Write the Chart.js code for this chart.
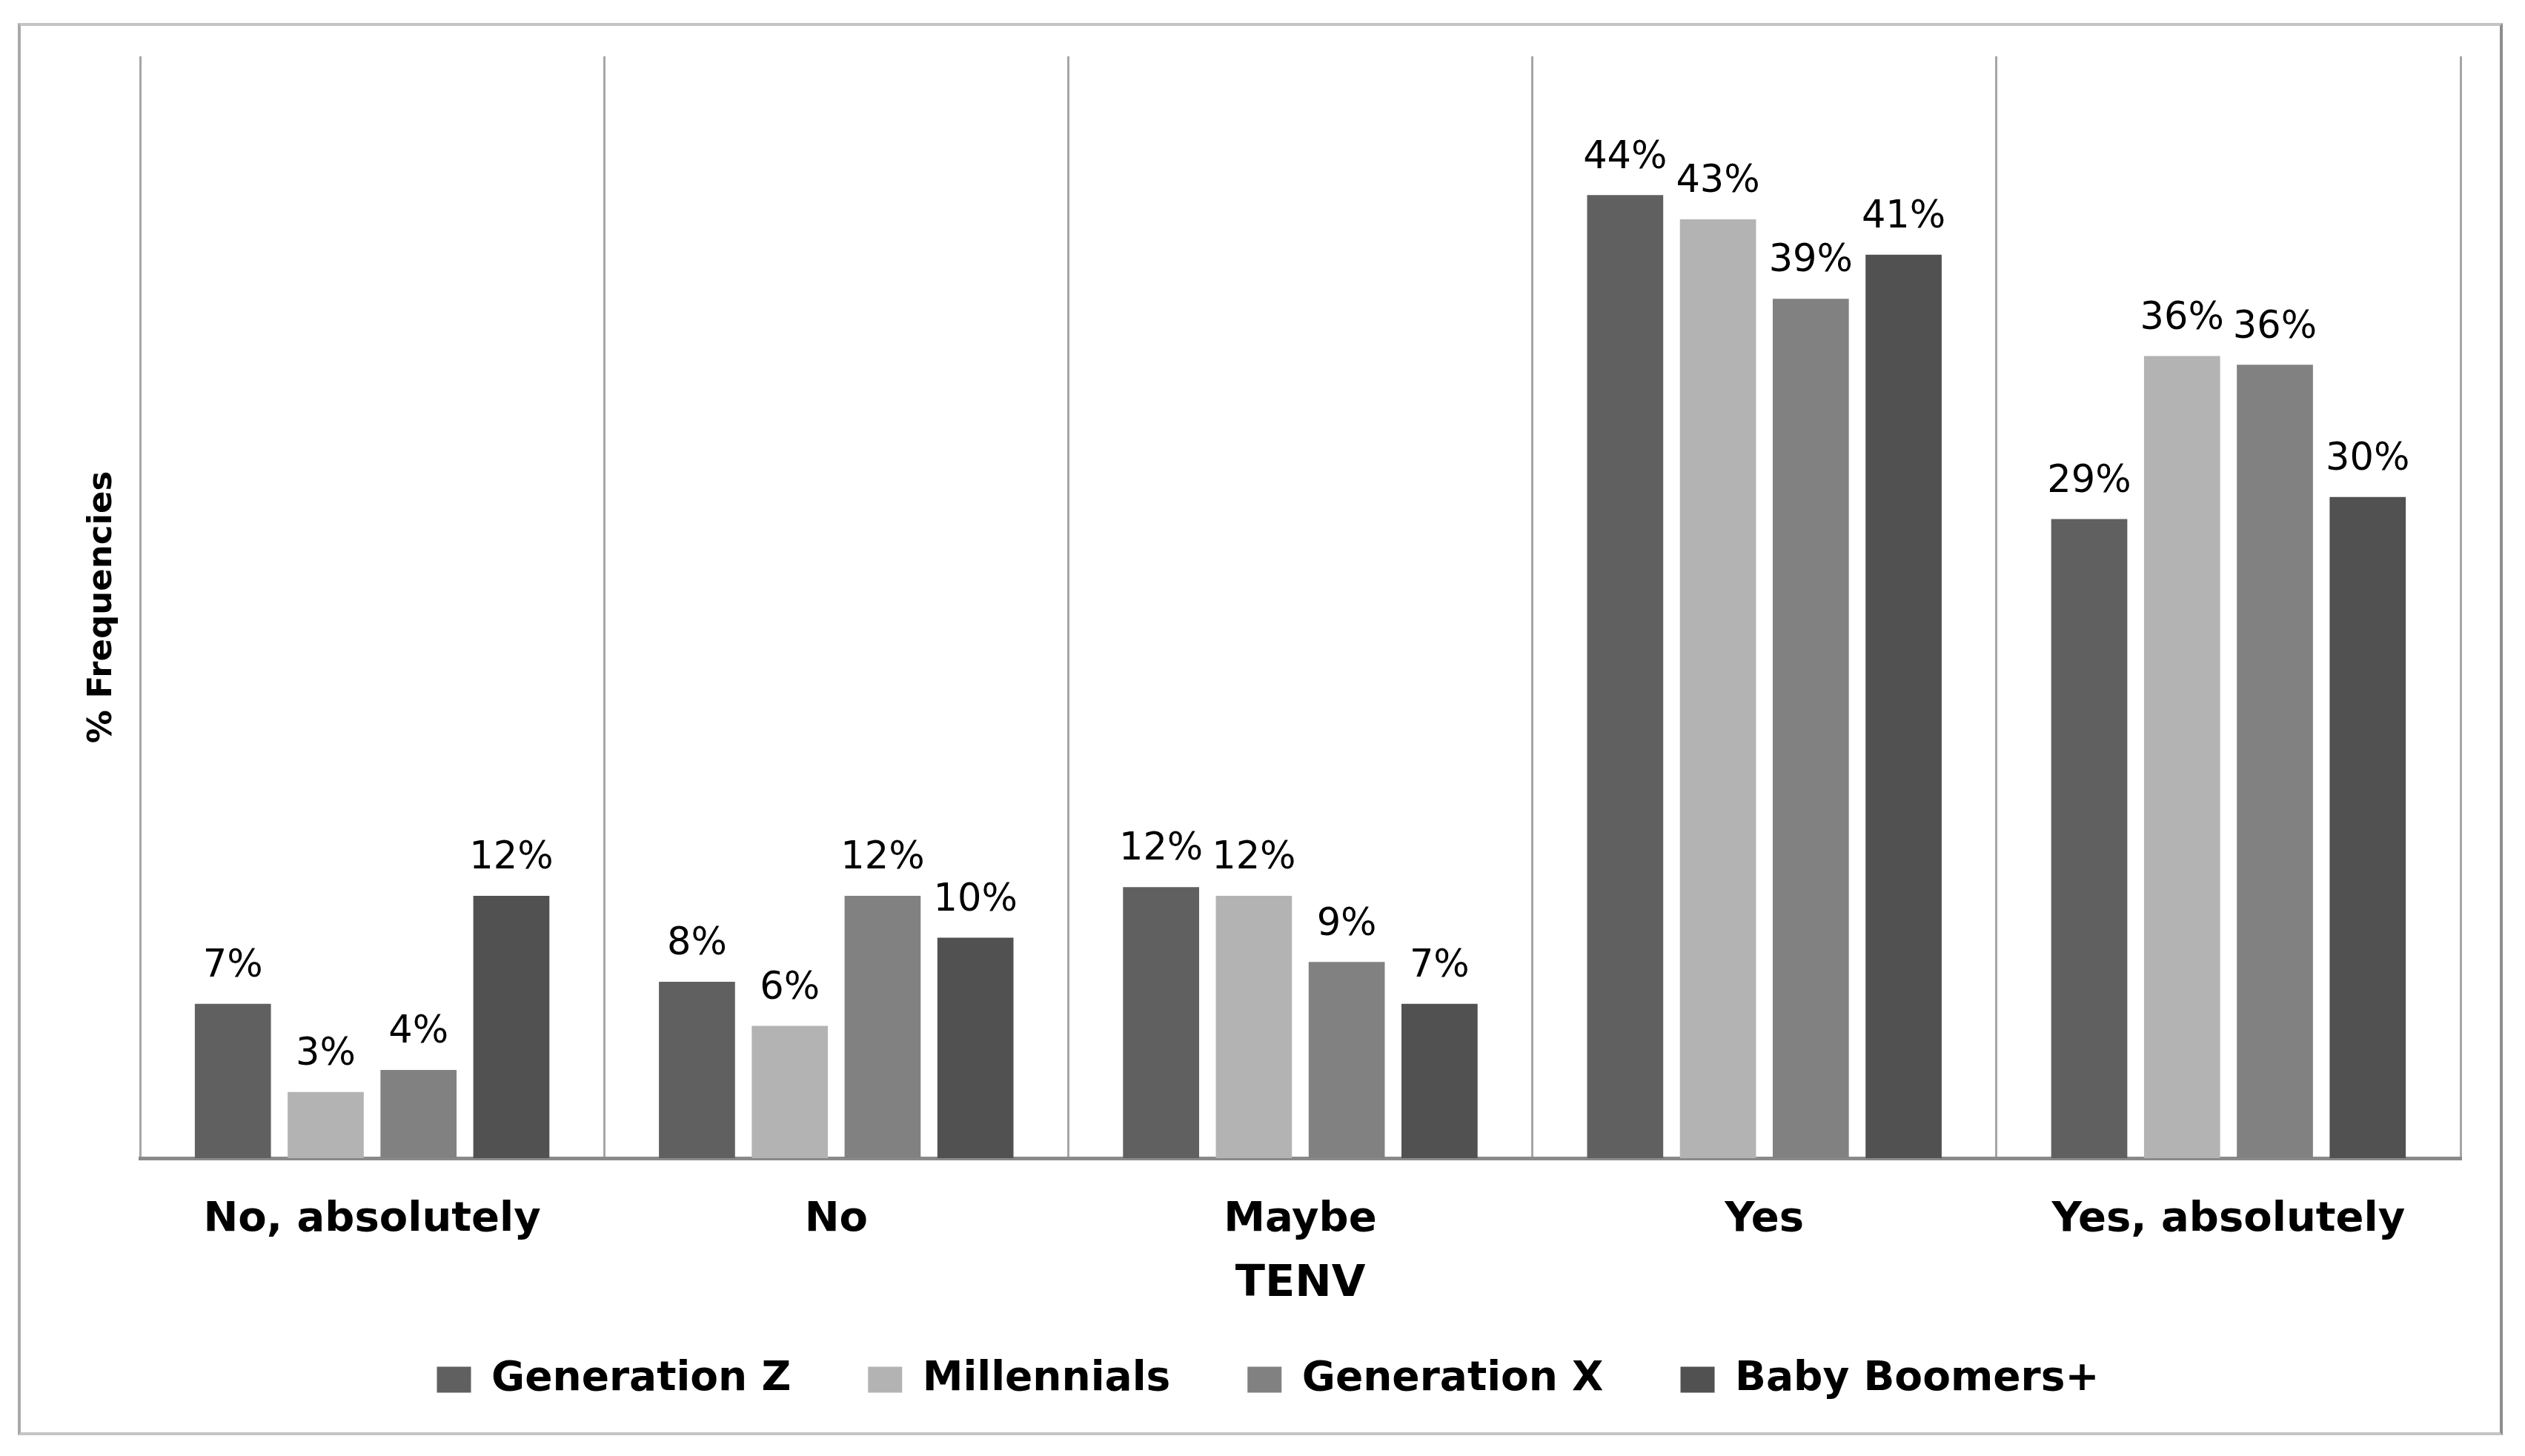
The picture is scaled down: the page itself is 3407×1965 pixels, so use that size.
<!DOCTYPE html>
<html>
<head>
<meta charset="utf-8">
<script src="https://cdn.jsdelivr.net/npm/chart.js@4"></script>
<style>
  html, body { margin: 0; padding: 0; background: #fff; }
  #frame {
    position: absolute; left: 24px; top: 31px;
    width: 3353px; height: 1906px; box-sizing: border-box;
    border: 4px solid #c4c4c4; border-left-color: #a9a9a9; border-right-color: #8e8e8e;
  }
  #wrap { position: relative; width: 3345px; height: 1898px; }
</style>
</head>
<body>
<div id="frame"><div id="wrap"><canvas id="chart"></canvas></div></div>
<script>
// TENV answers by generation (% frequencies)
const categories  = ['No, absolutely', 'No', 'Maybe', 'Yes', 'Yes, absolutely'];
const genZ        = [7.0, 8.0, 12.3, 43.7, 29.0];
const millennials = [3.0, 6.0, 11.9, 42.6, 36.4];
const genX        = [4.0, 11.9, 8.9, 39.0, 36.0];
const boomers     = [11.9, 10.0, 7.0, 41.0, 30.0];

Chart.defaults.font.family = '"DejaVu Sans"';
Chart.defaults.color = '#000';

// value labels above each bar
const barLabels = {
    id: 'barLabels',
    afterDatasetsDraw(chart) {
        const ctx = chart.ctx;
        ctx.save();
        ctx.font = '51px "DejaVu Sans"';
        ctx.fillStyle = '#000';
        ctx.textAlign = 'center';
        ctx.textBaseline = 'middle';
        chart.data.datasets.forEach((ds, i) => {
            chart.getDatasetMeta(i).data.forEach((bar, j) => {
                ctx.fillText(Math.round(ds.data[j]) + '%', bar.x, bar.y - 50);
            });
        });
        ctx.restore();
    }
};

const ctx = document.getElementById('chart');
new Chart(ctx, {
    type: 'bar',
    data: {
        labels: categories,
        datasets: [
            { label: 'Generation Z',   data: genZ,        backgroundColor: '#606060' },
            { label: 'Millennials',    data: millennials, backgroundColor: '#b3b3b3' },
            { label: 'Generation X',   data: genX,        backgroundColor: '#818181' },
            { label: 'Baby Boomers+',  data: boomers,     backgroundColor: '#515151' }
        ]
    },
    options: {
        responsive: true,
        maintainAspectRatio: false,
        animation: false,
        categoryPercentage: 0.8,
        barPercentage: 0.82,
        layout: { padding: { left: 74, right: 53, top: 41, bottom: 33.5 } },
        plugins: {
            tooltip: { enabled: false },
            legend: {
                position: 'bottom',
                labels: {
                    boxWidth: 46,
                    boxHeight: 35,
                    padding: 104,
                    color: '#000',
                    font: { size: 55, weight: 'bold' }
                }
            }
        },
        scales: {
            x: {
                grid: { color: '#a6a6a6', lineWidth: 3, drawTicks: false },
                border: { color: '#8a8a8a', width: 5 },
                ticks: { padding: 50, color: '#000', font: { size: 56, weight: 'bold' } },
                title: {
                    display: true, text: 'TENV', color: '#000',
                    font: { size: 59, weight: 'bold' },
                    padding: { top: 0, bottom: -39 }
                },
                afterFit(scale) { scale.height = 167.5; }
            },
            y: {
                min: 0,
                max: 50,
                grid: { display: false },
                border: { display: false },
                ticks: { display: false },
                title: {
                    display: true, text: '% Frequencies', color: '#000',
                    font: { size: 45, weight: 'bold' },
                    padding: { top: 9, bottom: 0 }
                },
                afterFit(scale) { scale.width = 87; }
            }
        }
    },
    plugins: [barLabels]
});
</script>
</body>
</html>
